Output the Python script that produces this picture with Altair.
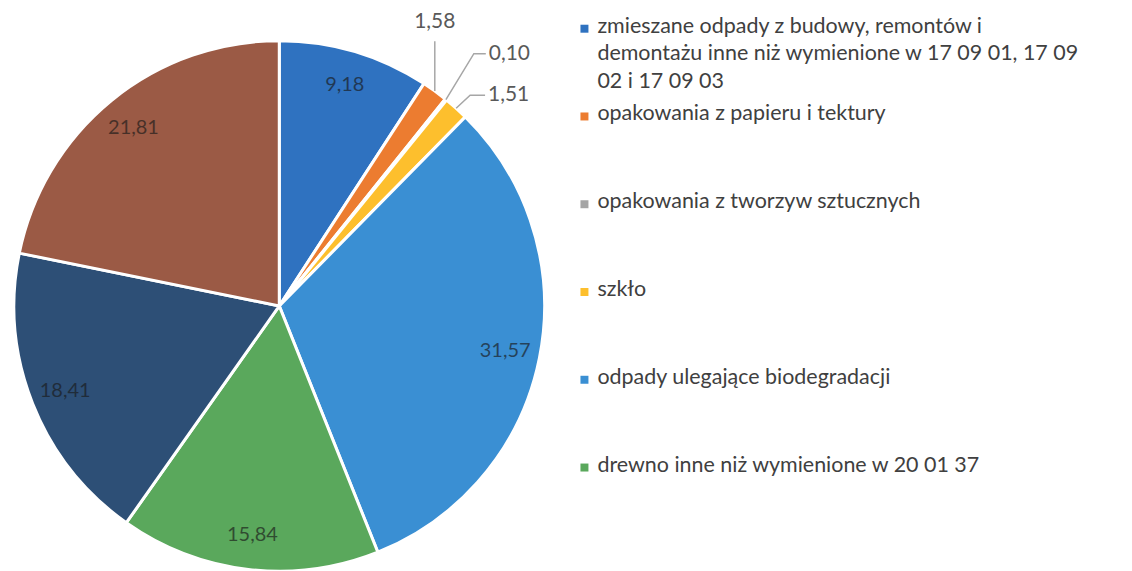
import math
import altair as alt
import pandas as pd

# ---- data ----
categories = [
    "zmieszane odpady z budowy, remontów i demontażu inne niż wymienione  w 17 09 01, 17 09 02 i 17 09 03",
    "opakowania z papieru i tektury",
    "opakowania z tworzyw sztucznych",
    "szkło",
    "odpady ulegające biodegradacji",
    "drewno inne niż wymienione w 20 01 37",
    "pozostałe odpady (1)",
    "pozostałe odpady (2)",
]
values = [9.18, 1.58, 0.10, 1.51, 31.57, 15.84, 18.41, 21.81]
legend_labels = [
    "zmieszane odpady z budowy, remontów i\ndemontażu inne niż wymienione  w 17 09 01, 17 09\n02 i 17 09 03",
    "opakowania z papieru i tektury",
    "opakowania z tworzyw sztucznych",
    "szkło",
    "odpady ulegające biodegradacji",
    "drewno inne niż wymienione w 20 01 37",
]
inside_idx = [0, 4, 5, 6, 7]
outside_idx = [1, 2, 3]

# ---- styles / layout ----
colors = ["#2f72c0", "#ec7c30", "#a5a5a5", "#fdbf2d", "#3a8fd3", "#5aa85c", "#2d4f76", "#9b5a45"]
FONT = "Lato"
CX, CY, R = 269, 298, 266
# callout geometry (pixel offsets relative to the slice edge point)
callout_pts = {1: [(0, -50)], 2: [(28, -46), (40, -46)], 3: [(14, -13), (29, -13)]}
callout_lbl = {1: (0, -19, "center"), 2: (3, 0, "left"), 3: (3, 0, "left")}


def fmt(v):
    return f"{v:.2f}".replace(".", ",")


df = pd.DataFrame({
    "idx": list(range(len(values))),
    "cat": categories,
    "value": values,
    "label": [fmt(v) for v in values],
    "inside": [i in inside_idx for i in range(len(values))],
})

total = sum(values)
cum = 0.0
edges = {}
for i, v in enumerate(values):
    mid = (cum + v / 2) / total * 2 * math.pi
    cum += v
    edges[i] = (CX + R * math.sin(mid), CY - R * math.cos(mid))

line_rows, lbl_rows = [], []
for i in outside_idx:
    ex, ey = edges[i]
    line_rows.append({"id": i, "o": 0, "x": ex, "y": ey})
    for k, (dx, dy) in enumerate(callout_pts[i]):
        line_rows.append({"id": i, "o": k + 1, "x": ex + dx, "y": ey + dy})
    lx, ly = ex + callout_pts[i][-1][0], ey + callout_pts[i][-1][1]
    ox, oy, al = callout_lbl[i]
    lbl_rows.append({"label": fmt(values[i]), "x": lx + ox, "y": ly + oy, "align": al})
lines_df = pd.DataFrame(line_rows)
lbl_df = pd.DataFrame(lbl_rows)

leg_df = pd.DataFrame({
    "i": list(range(len(legend_labels))),
    "text": legend_labels,
    "cat": categories[: len(legend_labels)],
})

color_scale = alt.Scale(domain=categories, range=colors)

base = alt.Chart(df)
pie = base.mark_arc(outerRadius=R, stroke="white", strokeWidth=3).encode(
    theta=alt.Theta("value:Q", stack=True),
    color=alt.Color("cat:N", scale=color_scale, legend=None),
    order=alt.Order("idx:Q"),
    x=alt.value(CX),
    y=alt.value(CY),
)
inner = base.mark_text(radius=231, font=FONT, fontSize=20, color="#1a1a1a", opacity=0.65).encode(
    theta=alt.Theta("value:Q", stack=True),
    order=alt.Order("idx:Q"),
    text=alt.condition("datum.inside", alt.Text("label:N"), alt.value("")),
    x=alt.value(CX),
    y=alt.value(CY),
)

leaders = alt.Chart(lines_df).mark_line(color="#a6a6a6", strokeWidth=1.5).encode(
    x=alt.X("x:Q", scale=None),
    y=alt.Y("y:Q", scale=None),
    detail="id:N",
    order="o:Q",
)
out_c = alt.Chart(lbl_df).transform_filter("datum.align == 'center'").mark_text(
    font=FONT, fontSize=21, color="#595959", align="center", baseline="middle"
).encode(x=alt.X("x:Q", scale=None), y=alt.Y("y:Q", scale=None), text="label:N")
out_l = alt.Chart(lbl_df).transform_filter("datum.align == 'left'").mark_text(
    font=FONT, fontSize=21, color="#595959", align="left", baseline="middle"
).encode(x=alt.X("x:Q", scale=None), y=alt.Y("y:Q", scale=None), text="label:N")

leg_y = alt.Y("i:O", scale=alt.Scale(type="point", range=[20, 460], padding=0), axis=None)
leg_sym = alt.Chart(leg_df).mark_square(size=64, opacity=1).encode(
    x=alt.value(575),
    y=leg_y,
    color=alt.Color("cat:N", scale=color_scale, legend=None),
)
leg_txt = alt.Chart(leg_df).mark_text(
    font=FONT, fontSize=21.5, color="#404040", align="left", baseline="top",
    dy=-13, lineBreak="\n", lineHeight=27.5,
).encode(x=alt.value(588), y=leg_y, text="text:N")

chart = alt.layer(pie, inner, leaders, out_c, out_l, leg_sym, leg_txt).properties(
    width=1116, height=555, padding=0
).configure_view(stroke=None)

chart.save("out.html", embed_options={"renderer": "svg", "actions": False})
